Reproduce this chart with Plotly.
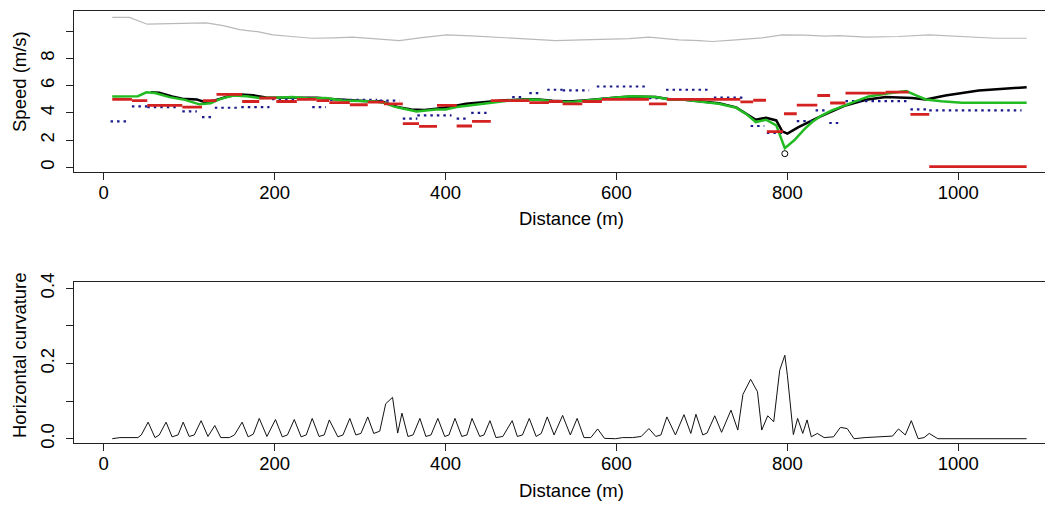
import plotly.graph_objects as go

# ---------------- data: top panel ----------------
gray_dist = [10, 30, 51, 80, 120, 140, 159, 180, 198, 220, 244, 270, 291, 315, 338, 346, 370, 401, 430, 455,
             483, 505, 529, 560, 590, 615, 638, 660, 673, 697, 712, 740, 770, 794, 820, 845, 860, 892, 930, 966,
             1000, 1044, 1080]
gray_speed = [11.0, 11.0, 10.5, 10.55, 10.6, 10.4, 10.1, 9.95, 9.72, 9.6, 9.47, 9.5, 9.55, 9.45, 9.3, 9.3, 9.5,
              9.72, 9.65, 9.55, 9.47, 9.4, 9.3, 9.35, 9.4, 9.45, 9.55, 9.45, 9.35, 9.3, 9.23, 9.35, 9.5, 9.72,
              9.7, 9.62, 9.67, 9.55, 9.6, 9.72, 9.6, 9.47, 9.47]

black_dist = [55, 65, 80, 92, 109, 118, 130, 145, 160, 175, 190, 210, 230, 250, 270, 290, 310, 325, 335, 345,
              360, 375, 389, 404, 424, 451, 470, 490, 506, 525, 545, 565, 583, 600, 618, 632, 646, 662, 680, 697,
              720, 740, 752, 763, 775, 787, 794, 800, 813, 837, 868, 892, 915, 946, 962, 985, 1024, 1080]
black_speed = [5.5, 5.47, 5.2, 5.03, 4.98, 4.8, 4.9, 5.2, 5.35, 5.28, 5.12, 5.12, 5.12, 5.1, 5.0, 4.9, 4.85,
               4.85, 4.65, 4.4, 4.25, 4.2, 4.3, 4.42, 4.66, 4.83, 4.92, 4.98, 5.0, 4.88, 4.82, 4.92, 5.05, 5.12,
               5.2, 5.2, 5.15, 5.0, 4.96, 4.85, 4.7, 4.4, 3.95, 3.49, 3.64, 3.44, 2.64, 2.47, 2.95, 3.68, 4.54,
               4.96, 5.15, 5.08, 4.98, 5.27, 5.64, 5.88]

green_dist = [10, 40, 50, 60, 77, 95, 112, 125, 136, 151, 167, 182, 200, 221, 240, 260, 279, 300, 319, 330,
              340, 350, 366, 380, 389, 400, 413, 430, 443, 460, 475, 490, 506, 525, 545, 565, 583, 600, 618, 632,
              646, 662, 680, 697, 720, 740, 752, 763, 775, 787, 797, 808, 820, 829, 840, 852, 865, 876, 895, 915,
              939, 950, 962, 980, 1004, 1080]
green_speed = [5.2, 5.22, 5.5, 5.45, 5.15, 4.95, 4.62, 4.7, 5.0, 5.27, 5.22, 5.08, 5.1, 5.15, 5.05, 5.08, 4.9,
               4.88, 4.83, 4.7, 4.45, 4.32, 4.1, 4.18, 4.25, 4.25, 4.42, 4.55, 4.66, 4.8, 4.9, 4.95, 4.98, 4.85,
               4.78, 4.9, 5.03, 5.12, 5.22, 5.2, 5.15, 4.98, 4.95, 4.82, 4.66, 4.37, 3.9, 3.32, 3.49, 3.08, 1.41,
               1.98, 2.8, 3.32, 3.8, 4.18, 4.5, 4.78, 5.2, 5.4, 5.59, 5.3, 4.98, 4.85, 4.74, 4.74]

min_dist = [797]
min_speed = [1.0]

red_start = [10, 33, 51, 92, 116, 132, 162, 182, 202, 226, 249, 264, 288, 309, 328, 350, 369, 390, 413, 431,
             453, 475, 498, 521, 537, 560, 583, 638, 659, 693, 745, 760, 776, 796, 811, 835, 850, 868, 915, 944,
             966]
red_end = [33, 51, 92, 115, 132, 162, 182, 202, 226, 249, 264, 288, 309, 328, 350, 369, 390, 413, 431, 453,
           475, 498, 521, 537, 560, 583, 638, 659, 693, 745, 760, 775, 795, 811, 835, 850, 868, 915, 942, 966,
           1080]
red_speed = [4.98, 4.9, 4.55, 4.42, 4.9, 5.35, 4.83, 5.08, 4.83, 4.98, 4.9, 4.74, 4.59, 4.78, 4.66, 3.2, 3.0,
             4.54, 3.03, 3.37, 4.9, 4.9, 4.74, 4.83, 4.66, 4.83, 4.98, 4.66, 4.98, 4.98, 4.8, 4.92, 2.62, 3.93,
             4.56, 5.27, 4.72, 5.44, 5.52, 3.88, 0.05]

blue_start = [8, 33, 51, 92, 115, 130, 161, 197, 244, 265, 323, 350, 367, 413, 430, 478, 498, 519, 537, 577,
              638, 658, 714, 757, 776, 811, 833, 849, 868, 944, 966]
blue_end = [27, 51, 89, 109, 126, 157, 194, 240, 260, 320, 346, 367, 407, 428, 448, 492, 513, 537, 568, 635,
            653, 711, 751, 773, 794, 829, 845, 864, 942, 966, 1074]
blue_speed = [3.37, 4.47, 4.42, 4.1, 3.68, 4.37, 4.42, 5.0, 4.42, 4.95, 4.9, 3.57, 3.81, 3.57, 4.0, 5.15, 5.44,
              5.69, 5.64, 5.93, 5.08, 5.69, 5.11, 3.03, 2.52, 3.39, 4.18, 3.25, 4.86, 4.25, 4.18]

# ---------------- data: bottom panel ----------------
curv_dist = [10, 19, 40, 44, 52, 60, 65, 73, 80, 87, 93, 100, 106, 114, 122, 130, 137, 147, 153, 162, 169, 175,
             182, 191, 201, 209, 215, 223, 231, 237, 244, 252, 258, 264, 274, 280, 288, 295, 301, 309, 316, 323,
             330, 338, 344, 349, 356, 362, 370, 377, 383, 391, 399, 404, 411, 419, 425, 431, 440, 445, 452, 459,
             467, 478, 484, 490, 498, 506, 512, 519, 527, 537, 546, 554, 562, 570, 578, 586, 599, 607, 619, 629,
             638, 646, 652, 659, 669, 679, 687, 693, 701, 706, 715, 723, 734, 742, 748, 757, 765, 770, 777, 784,
             791, 797, 800, 807, 812, 818, 823, 828, 835, 843, 854, 862, 870, 878, 891, 917, 923, 930, 938, 945,
             953, 960, 966, 976, 1080]
curv = [0.0, 0.003, 0.003, 0.01, 0.044, 0.003, 0.01, 0.044, 0.005, 0.01, 0.044, 0.006, 0.01, 0.048, 0.006,
        0.035, 0.003, 0.003, 0.01, 0.044, 0.005, 0.012, 0.054, 0.006, 0.051, 0.005, 0.01, 0.051, 0.005, 0.01,
        0.054, 0.006, 0.01, 0.05, 0.005, 0.01, 0.054, 0.01, 0.014, 0.058, 0.014, 0.02, 0.093, 0.11, 0.015, 0.068,
        0.006, 0.01, 0.054, 0.006, 0.01, 0.054, 0.006, 0.01, 0.054, 0.006, 0.01, 0.054, 0.006, 0.01, 0.048,
        0.003, 0.006, 0.048, 0.006, 0.01, 0.054, 0.006, 0.014, 0.058, 0.01, 0.062, 0.01, 0.054, 0.003, 0.003,
        0.026, 0.001, 0.0, 0.003, 0.003, 0.006, 0.027, 0.006, 0.01, 0.058, 0.01, 0.064, 0.014, 0.065, 0.01,
        0.015, 0.061, 0.017, 0.076, 0.023, 0.118, 0.158, 0.125, 0.023, 0.061, 0.045, 0.182, 0.222, 0.169, 0.011,
        0.054, 0.014, 0.05, 0.005, 0.014, 0.003, 0.005, 0.03, 0.027, 0.0, 0.003, 0.005, 0.007, 0.026, 0.01,
        0.048, 0.0, 0.003, 0.014, 0.0, 0.0]

x_ticks = [0, 200, 400, 600, 800, 1000]
speed_ticks = [0, 2, 4, 6, 8, 10]
speed_ticktext = ["0", "2", "4", "6", "8", ""]
curv_ticks = [0.0, 0.1, 0.2, 0.3, 0.4]
curv_ticktext = ["0.0", "", "0.2", "", "0.4"]


def segments(starts, ends, vals):
    xs, ys = [], []
    for a, b, v in zip(starts, ends, vals):
        xs += [a, b, None]
        ys += [v, v, None]
    return xs, ys


# The page body has an 8px margin; the figure is sized to fill the rest of the window.
OFF = 8
WIN_W, WIN_H = 1053, 511
W, H = WIN_W - OFF, WIN_H - OFF
FONT = "Liberation Sans, Arial, sans-serif"
FS = 18.5


def px_x(x):  # reference-window x -> paper fraction
    return (x - OFF) / W


def px_y(y):  # reference-window y -> paper fraction
    return (H - (y - OFF)) / H


fig = go.Figure()

fig.add_trace(go.Scatter(x=gray_dist, y=gray_speed, mode="lines",
                         line=dict(color="#b9b9b9", width=1.2), xaxis="x", yaxis="y"))
fig.add_trace(go.Scatter(x=black_dist, y=black_speed, mode="lines",
                         line=dict(color="#000000", width=2.5), xaxis="x", yaxis="y"))
bx, by = segments(blue_start, blue_end, blue_speed)
fig.add_trace(go.Scatter(x=bx, y=by, mode="lines", connectgaps=False,
                         line=dict(color="#1a1a8c", width=2.2, dash="2.5px,4px"), xaxis="x", yaxis="y"))
fig.add_trace(go.Scatter(x=green_dist, y=green_speed, mode="lines",
                         line=dict(color="#22bb22", width=2.5), xaxis="x", yaxis="y"))
rx, ry = segments(red_start, red_end, red_speed)
fig.add_trace(go.Scatter(x=rx, y=ry, mode="lines", connectgaps=False,
                         line=dict(color="#d42222", width=2.8), xaxis="x", yaxis="y"))
fig.add_trace(go.Scatter(x=min_dist, y=min_speed, mode="markers",
                         marker=dict(symbol="circle-open", size=6, color="#000000", line=dict(width=1)),
                         xaxis="x", yaxis="y"))

fig.add_trace(go.Scatter(x=curv_dist, y=curv, mode="lines",
                         line=dict(color="#111111", width=1), xaxis="x2", yaxis="y2"))

PXM = 0.8546          # pixels per metre
X0PX = 103.7          # window x of distance 0
x_left = (74.3 - X0PX) / PXM
x_right = (WIN_W - X0PX) / PXM
xdom = [px_x(74.3), 1.0]

axis_common = dict(showgrid=False, zeroline=False, showline=True, linecolor="#222222", linewidth=1,
                   ticks="outside", ticklen=7, tickwidth=1, tickcolor="#222222", automargin=False,
                   tickfont=dict(family=FONT, size=FS, color="#000000"))

fig.update_layout(
    template="none",
    width=W, height=H, margin=dict(l=0, r=0, t=0, b=0, pad=0),
    paper_bgcolor="white", plot_bgcolor="white", showlegend=False,
    xaxis=dict(domain=xdom, range=[x_left, x_right], tickvals=x_ticks, mirror=True, anchor="y",
               ticklabelstandoff=-3, **axis_common),
    yaxis=dict(domain=[px_y(172), px_y(11)], range=[-0.345, 11.47], tickvals=speed_ticks,
               ticktext=speed_ticktext, tickangle=-90, anchor="x", ticklabelstandoff=5, **axis_common),
    xaxis2=dict(domain=xdom, range=[x_left, x_right], tickvals=x_ticks, mirror=True, anchor="y2",
                ticklabelstandoff=-4, **axis_common),
    yaxis2=dict(domain=[px_y(443.3), px_y(282.3)], range=[-0.0122, 0.416], tickvals=curv_ticks,
                ticktext=curv_ticktext, tickangle=-90, anchor="x2", ticklabelstandoff=5, **axis_common),
)

title_font = dict(family=FONT, size=FS, color="#000000")
annots = [
    dict(text="Distance (m)", x=px_x(571), y=px_y(218)),
    dict(text="Distance (m)", x=px_x(571), y=px_y(490)),
    dict(text="Speed (m/s)", x=px_x(19), y=px_y(82), textangle=-90),
    dict(text="Horizontal curvature", x=px_x(19), y=px_y(355), textangle=-90),
]
for a in annots:
    fig.add_annotation(xref="paper", yref="paper", showarrow=False, xanchor="center", yanchor="middle",
                       font=title_font, **a)

fig.write_html("out.html")
